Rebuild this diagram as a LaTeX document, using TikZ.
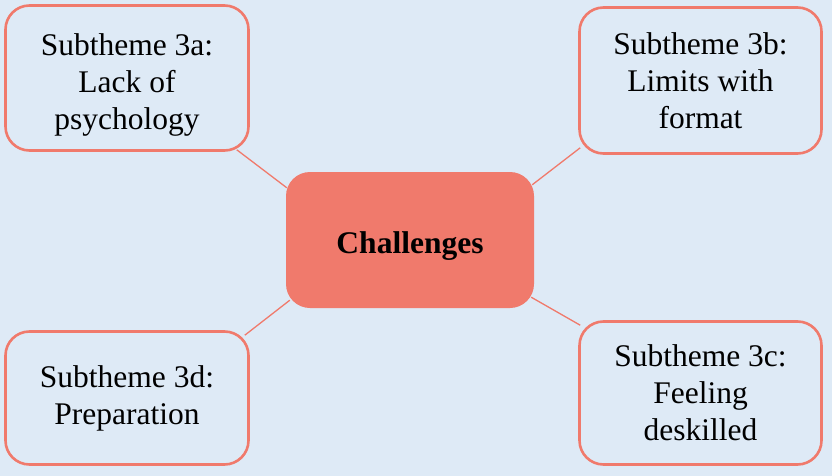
\documentclass[tikz,border=0pt]{standalone}
\usepackage{fontspec}
\setmainfont{Liberation Serif}
\definecolor{bgblue}{HTML}{DEEAF6}
\definecolor{salmon}{HTML}{F07A6C}
\tikzset{
  every picture/.style={x=1pt,y=-1pt},
  themebox/.style={draw=salmon, line width=2.6pt, fill=bgblue, rounded corners=24pt,
    align=center, inner sep=0pt, font=\fontsize{31.5}{37}\selectfont},
  hubbox/.style={fill=salmon, rounded corners=24pt, align=center, inner sep=0pt,
    font=\fontsize{31.5}{37}\selectfont\bfseries},
  link/.style={draw=salmon, line width=1.3pt}
}
\begin{document}
\begin{tikzpicture}
  % page background and fixed extent
  \fill[bgblue] (0,0) rectangle (832,476);
  \useasboundingbox (0,0) rectangle (832,476);

  % central topic
  \node[hubbox, minimum width=248pt, minimum height=136pt,
        text height=31pt, text depth=4pt] (hub) at (410,240) {Challenges};

  % subthemes
  \node[themebox, minimum width=243pt, minimum height=145pt,
        text height=103pt, text depth=0pt] (s3a) at (127,78)
    {Subtheme 3a:\\Lack of\\psychology};
  \node[themebox, minimum width=242pt, minimum height=146pt] (s3b) at (700.5,80.5)
    {Subtheme 3b:\\Limits with\\format};
  \node[themebox, minimum width=243pt, minimum height=133pt] (s3d) at (127,398)
    {Subtheme 3d:\\Preparation};
  \node[themebox, minimum width=242pt, minimum height=143pt] (s3c) at (700.5,393)
    {Subtheme 3c:\\Feeling\\deskilled};

  % connectors from each subtheme to the hub
  \draw[link] ([xshift=-13pt,yshift=2pt]s3a.south east) -- ([xshift=1pt,yshift=-16pt]hub.north west);
  \draw[link] ([xshift=2pt,yshift=7pt]s3b.south west) -- ([xshift=-2pt,yshift=-13pt]hub.north east);
  \draw[link] ([xshift=-5pt,yshift=-5pt]s3d.north east) -- ([xshift=4pt,yshift=8pt]hub.south west);
  \draw[link] ([xshift=2pt,yshift=-5pt]s3c.north west) -- ([xshift=-3pt,yshift=11pt]hub.south east);
\end{tikzpicture}
\end{document}
